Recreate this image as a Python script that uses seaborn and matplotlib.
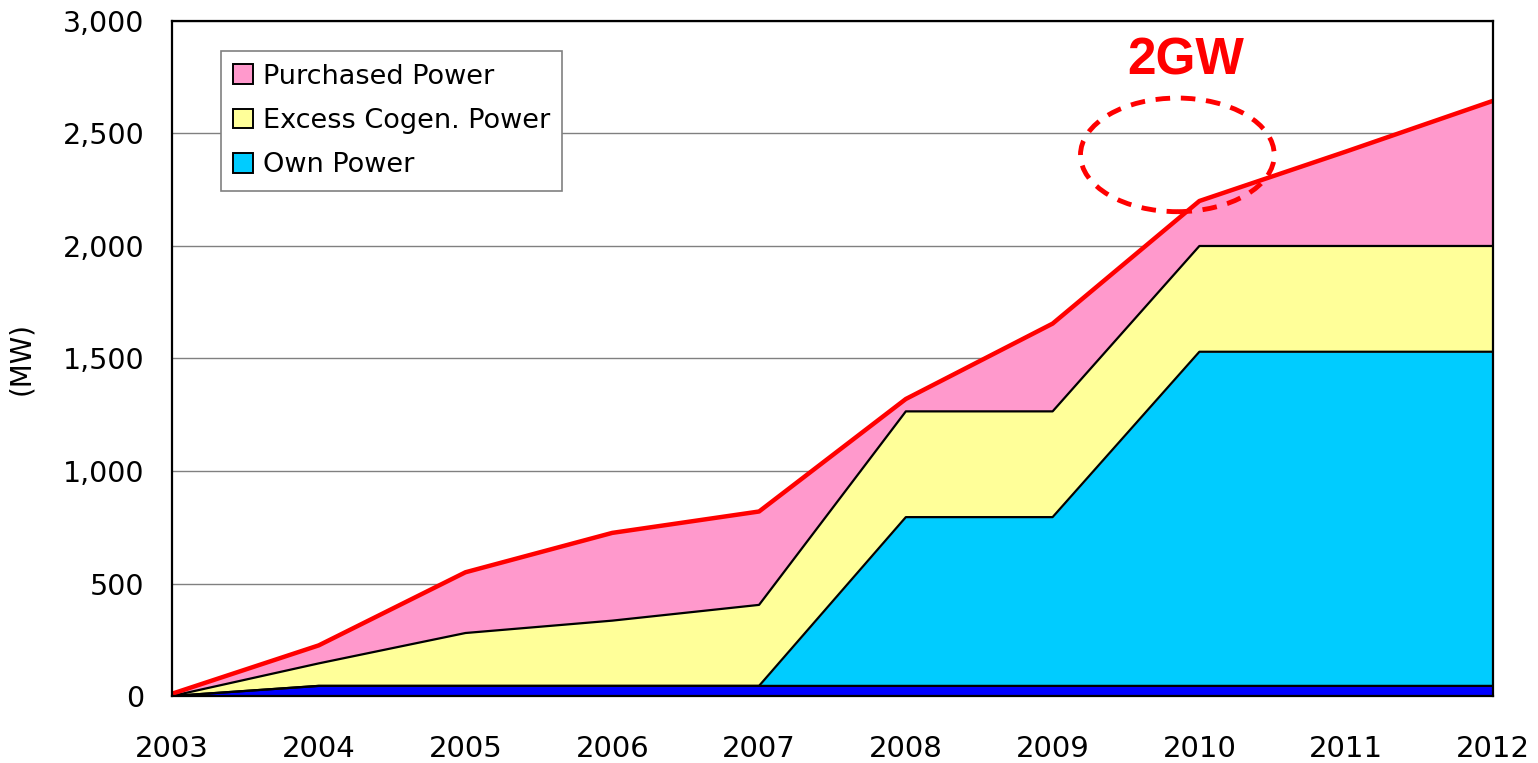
import numpy as np
import pandas as pd
import matplotlib
matplotlib.use("Agg")
import matplotlib.pyplot as plt
import seaborn as sns
from matplotlib.patches import Patch, Ellipse

# =========================
# data (MW, layer increments)
# =========================
years = [2003, 2004, 2005, 2006, 2007, 2008, 2009, 2010, 2011, 2012]
base_power = [0, 45, 45, 45, 45, 45, 45, 45, 45, 45]
own_power = [0, 0, 0, 0, 0, 750, 750, 1485, 1485, 1485]
cogen_power = [0, 100, 235, 290, 360, 470, 470, 470, 470, 470]
purchased_power = [10, 80, 270, 390, 415, 55, 390, 200, 420, 645]

legend_labels = ["Purchased Power", "Excess Cogen. Power", "Own Power"]
y_ticks = [0, 500, 1000, 1500, 2000, 2500, 3000]

df = pd.DataFrame({
    "year": years,
    "base": base_power,
    "own": own_power,
    "cogen": cogen_power,
    "purchased": purchased_power,
})
df["top_base"] = df["base"]
df["top_own"] = df["top_base"] + df["own"]
df["top_cogen"] = df["top_own"] + df["cogen"]
df["total"] = df["top_cogen"] + df["purchased"]

# =========================
# style
# =========================
sns.set_style("white")
plt.rcParams["font.family"] = ["DejaVu Sans"]
plt.rcParams["text.color"] = "black"
plt.rcParams["axes.labelcolor"] = "black"
plt.rcParams["xtick.color"] = "black"
plt.rcParams["ytick.color"] = "black"

C_BASE = "#0000FF"
C_OWN = "#00CCFF"
C_COGEN = "#FFFF99"
C_PURCH = "#FF99CC"

fig = plt.figure(figsize=(15.38, 7.63), dpi=100)
ax = fig.add_axes([0.1118, 0.0878, 0.8589, 0.8847])

ax.stackplot(df["year"], df["base"], df["own"], df["cogen"], df["purchased"],
             colors=[C_BASE, C_OWN, C_COGEN, C_PURCH], linewidth=0, zorder=2)

# black outlines on layer tops
for col in ["top_base", "top_own", "top_cogen"]:
    sns.lineplot(data=df, x="year", y=col, color="black", linewidth=1.6,
                 ax=ax, zorder=3, legend=False)

# red total line
sns.lineplot(data=df, x="year", y="total", color="#FF0000", linewidth=3.2,
             ax=ax, zorder=4, legend=False)

# axes
ax.set_xlim(years[0], years[-1])
ax.set_ylim(0, 3000)
ax.set_xticks(years)
ax.set_yticks(y_ticks)
ax.set_yticklabels([f"{v:,}" for v in y_ticks])
ax.set_xlabel("")
ax.set_ylabel("(MW)", fontsize=20, labelpad=20)

ax.tick_params(axis="x", direction="in", length=6, width=1, pad=28,
               labelsize=21)
ax.tick_params(axis="y", direction="in", length=6, width=1, pad=20,
               labelsize=20.5)

ax.yaxis.grid(True, color="#808080", linewidth=1)
ax.xaxis.grid(False)
ax.set_axisbelow(True)

for side in ["top", "right", "left", "bottom"]:
    ax.spines[side].set_color("black")
    ax.spines[side].set_linewidth(1.6)
    ax.spines[side].set_zorder(5)

# legend
handles = [
    Patch(facecolor=C_PURCH, edgecolor="black", linewidth=1.4),
    Patch(facecolor=C_COGEN, edgecolor="black", linewidth=1.4),
    Patch(facecolor=C_OWN, edgecolor="black", linewidth=1.4),
]
leg = ax.legend(handles, legend_labels, loc="upper left",
                bbox_to_anchor=(0.037, 0.955), fontsize=19.5,
                handlelength=0.75, handleheight=0.75, handletextpad=0.35,
                labelspacing=0.68, borderpad=0.45, borderaxespad=0,
                fancybox=False, framealpha=1, edgecolor="#808080")
leg.get_frame().set_linewidth(1.2)
leg.set_zorder(6)

# 2GW annotation
ellipse_center = (2009.85, 2405)
ellipse_size = (1.32, 505)
ax.add_patch(Ellipse(ellipse_center, ellipse_size[0], ellipse_size[1],
                     fill=False, edgecolor="#FF0000", linewidth=3.5,
                     linestyle=(0, (3, 2.2)), zorder=6, clip_on=False))
ax.text(2009.91, 2820, "2GW", color="#FF0000", fontsize=37, fontweight="bold",
        family=["Liberation Sans", "DejaVu Sans"], ha="center", va="center",
        zorder=6)

fig.savefig("out.png", dpi=100)
